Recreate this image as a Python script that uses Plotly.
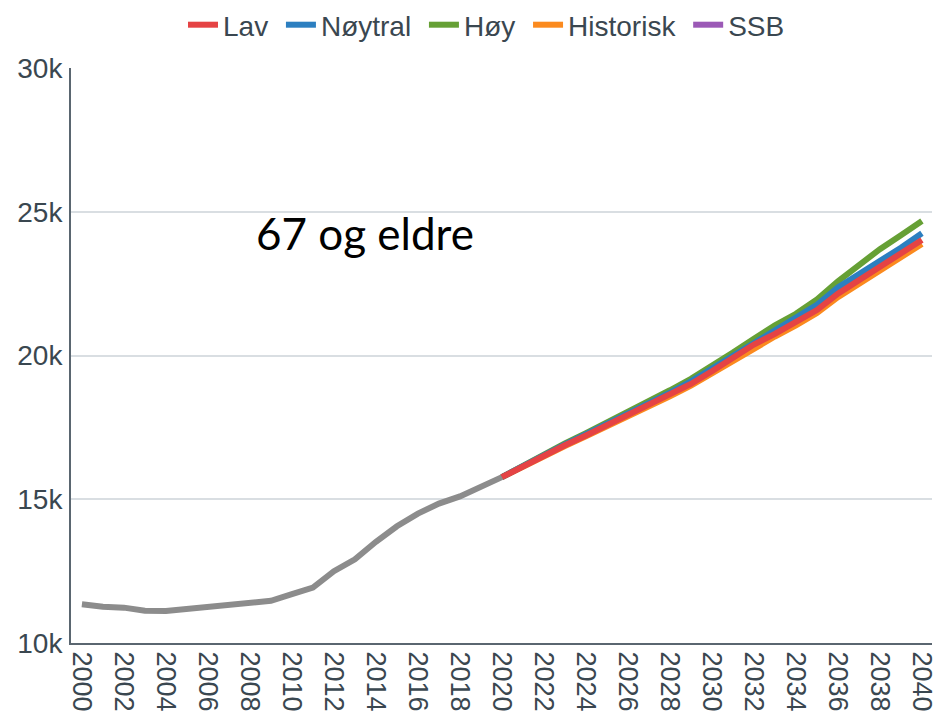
import plotly.graph_objects as go

# ---- data ----
hist_years = list(range(2000, 2021))
hist_values = [11350, 11260, 11230, 11120, 11110, 11190, 11240, 11330, 11430, 11470,
               11700, 11930, 12500, 12910, 13520, 14060, 14500, 14850, 15100, 15450, 15770]

proj_years = list(range(2020, 2041))
lav = [15770, 16150, 16520, 16880, 17220, 17570, 17920, 18270, 18640, 19010, 19450,
       19920, 20380, 20750, 21150, 21580, 22150, 22620, 23070, 23550, 24020]
noytral = [15770, 16160, 16540, 16910, 17260, 17610, 17970, 18330, 18710, 19100, 19540,
           20010, 20480, 20900, 21300, 21760, 22370, 22830, 23240, 23750, 24250]
hoy = [15770, 16170, 16560, 16940, 17300, 17660, 18020, 18400, 18790, 19190, 19630,
       20100, 20580, 21050, 21450, 21950, 22580, 23150, 23700, 24180, 24680]
historisk = [15770, 16140, 16500, 16850, 17190, 17530, 17870, 18220, 18580, 18950, 19380,
             19840, 20290, 20660, 21050, 21480, 22030, 22500, 22960, 23420, 23880]
ssb_years = [2020]
ssb = [None]

y_tick_vals = [10000, 15000, 20000, 25000, 30000]
y_tick_text = ["10k", "15k", "20k", "25k", "30k"]
x_tick_vals = list(range(2000, 2041, 2))
x_tick_text = [str(v) for v in x_tick_vals]

label_text = "67 og eldre"

# ---- figure ----
W, H = 936, 712
L, R, T, B = 71, 936 - 932, 68, 712 - 643
PW, PH = W - L - R, H - T - B

fig = go.Figure()

font_family = "Liberation Sans, Arial, sans-serif"
text_col = "#3a4750"

fig.add_trace(go.Scatter(x=hist_years, y=hist_values, mode="lines",
                         line=dict(color="#8c8c8c", width=6), showlegend=False,
                         name="Historikk"))

series = [
    ("SSB", ssb_years, ssb, "#9b59b6", 5),
    ("Historisk", proj_years, historisk, "#fb8a1e", 4),
    ("Høy", proj_years, hoy, "#66a035", 3),
    ("Nøytral", proj_years, noytral, "#2c7fc0", 2),
    ("Lav", proj_years, lav, "#e54344", 1),
]
for name, xs, ys, col, rank in series:
    fig.add_trace(go.Scatter(x=xs, y=ys, mode="lines", name=name + "\u00a0",
                             line=dict(color=col, width=6), legendrank=rank))

fig.add_annotation(text=label_text, xref="paper", yref="paper",
                   x=(364.5 - 71) / PW, y=(643 - 233) / PH,
                   xanchor="center", yanchor="middle", showarrow=False,
                   font=dict(family="Lato, Open Sans, sans-serif", size=44, color="#000000"))

fig.update_layout(
    width=W, height=H,
    margin=dict(l=L, r=R, t=T, b=B),
    paper_bgcolor="white", plot_bgcolor="white",
    font=dict(family=font_family, size=28, color=text_col),
    showlegend=True,
    legend=dict(orientation="h", xref="paper", x=(490 - 71) / PW, xanchor="center",
                yref="container", y=1 - 25 / H, yanchor="middle",
                font=dict(size=28, color=text_col), itemwidth=30,
                bgcolor="rgba(0,0,0,0)"),
    xaxis=dict(range=[1999.48, 2040.48], tickmode="array", tickvals=x_tick_vals,
               ticktext=x_tick_text, tickangle=90, showgrid=False,
               showline=True, linecolor="#5a6670", linewidth=2,
               ticks="outside", ticklen=1, tickcolor="rgba(0,0,0,0)",
               zeroline=False, automargin=False, ticklabeloverflow="allow",
               tickfont=dict(size=27, color=text_col)),
    yaxis=dict(range=[10000, 30000], tickmode="array", tickvals=y_tick_vals,
               ticktext=y_tick_text, showgrid=True, gridcolor="#d9dee2", gridwidth=1.5,
               showline=True, linecolor="#5a6670", linewidth=2,
               ticks="outside", ticklen=1, tickcolor="rgba(0,0,0,0)",
               zeroline=False, automargin=False, ticklabeloverflow="allow",
               tickfont=dict(size=28, color=text_col)),
)

fig.write_html("out.html", config={"displayModeBar": False},
               post_script="document.body.style.margin='0';document.body.style.overflow='hidden';")
